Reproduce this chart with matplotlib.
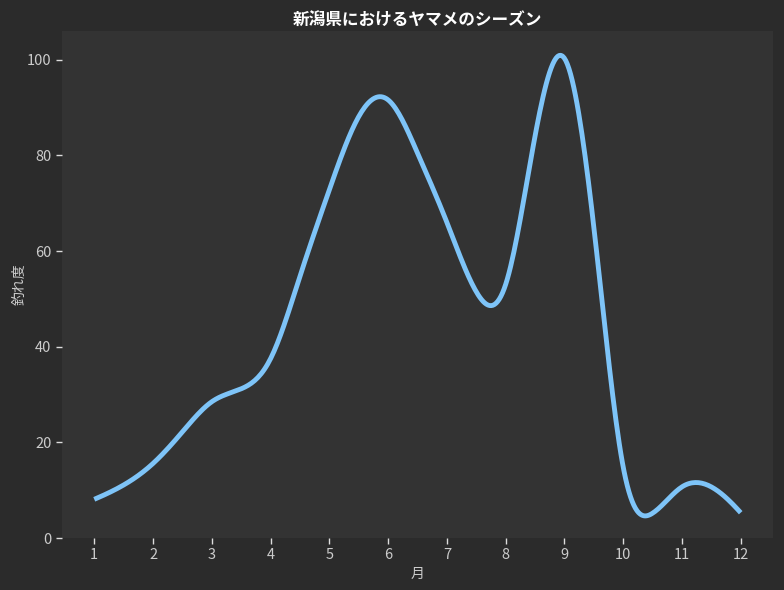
import numpy as np
import matplotlib
matplotlib.use("Agg")
import matplotlib.pyplot as plt

plt.rcParams['font.family'] = ['Noto Sans CJK JP', 'DejaVu Sans']

# half-month readings (上旬 / 下旬)
months = [1, 1.5, 2, 2.5, 3, 3.5, 4, 4.5, 5, 5.5, 6, 6.5,
          7, 7.5, 8, 8.5, 9, 9.5, 10, 10.5, 11, 11.5, 12]
catch_rate = [8.1, 11.1, 15.6, 22.2, 28.5, 31.2, 37.5, 54.7, 72.8, 88.1, 91.6, 80.5,
              66.0, 51.5, 53.0, 84.0, 100.3, 65.1, 14.9, 5.2, 10.7, 10.7, 5.3]
tick_months = [1, 2, 3, 4, 5, 6, 7, 8, 9, 10, 11, 12]
month_labels = ['1', '2', '3', '4', '5', '6', '7', '8', '9', '10', '11', '12']

title = '新潟県におけるヤマメのシーズン'
xlabel = '月'
ylabel = '釣れ度'


def not_a_knot_spline(x, y, num=400):
    x = np.asarray(x, float)
    y = np.asarray(y, float)
    n = len(x)
    h = np.diff(x)
    A = np.zeros((n, n))
    b = np.zeros(n)
    A[0, 0] = h[1]
    A[0, 1] = -(h[0] + h[1])
    A[0, 2] = h[0]
    A[-1, -3] = h[-1]
    A[-1, -2] = -(h[-2] + h[-1])
    A[-1, -1] = h[-2]
    for i in range(1, n - 1):
        A[i, i - 1] = h[i - 1]
        A[i, i] = 2 * (h[i - 1] + h[i])
        A[i, i + 1] = h[i]
        b[i] = 6 * ((y[i + 1] - y[i]) / h[i] - (y[i] - y[i - 1]) / h[i - 1])
    M = np.linalg.solve(A, b)
    xs = np.linspace(x[0], x[-1], num)
    idx = np.clip(np.searchsorted(x, xs) - 1, 0, n - 2)
    hi = h[idx]
    t0 = x[idx + 1] - xs
    t1 = xs - x[idx]
    ys = (M[idx] * t0 ** 3 / (6 * hi) + M[idx + 1] * t1 ** 3 / (6 * hi)
          + (y[idx] / hi - M[idx] * hi / 6) * t0
          + (y[idx + 1] / hi - M[idx + 1] * hi / 6) * t1)
    return xs, ys


xs, ys = not_a_knot_spline(months, catch_rate)

fig = plt.figure(figsize=(7.84, 5.9), dpi=100, facecolor='#2b2b2b')
ax = fig.add_axes([0.079, 0.088, 0.907, 0.8595])
ax.set_facecolor('#333333')
ax.plot(xs, ys, color='#7ec4f8', linewidth=3.5, solid_capstyle='butt')

ax.set_xticks(tick_months)
ax.set_xticklabels(month_labels)
ax.set_xlim(0.45, 12.55)
ax.set_ylim(0, 106)
ax.set_yticks([0, 20, 40, 60, 80, 100])

for s in ax.spines.values():
    s.set_visible(False)
ax.tick_params(colors='#dddddd', labelcolor='#cccccc', labelsize=10.5, length=4, width=1)

ax.set_title(title, color='white', fontsize=12, fontweight='bold', pad=4)
ax.set_xlabel(xlabel, color='#cccccc', fontsize=10, labelpad=3)
ax.set_ylabel(ylabel, color='#cccccc', fontsize=10, labelpad=0)

fig.savefig('out.png', dpi=100, facecolor=fig.get_facecolor())
